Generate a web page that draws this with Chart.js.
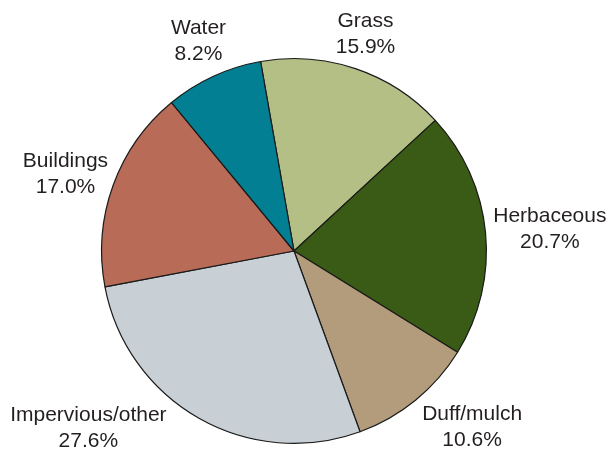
<!DOCTYPE html>
<html>
<head>
<meta charset="utf-8">
<script src="https://cdn.jsdelivr.net/npm/chart.js@4/dist/chart.umd.min.js"></script>
<style>
  html, body { margin: 0; padding: 0; background: #fff; }
  #wrap { width: 610px; height: 453px; }
</style>
</head>
<body>
<div id="wrap"><canvas id="chart-area" width="610" height="453"></canvas></div>
<script>
// land cover shares, clockwise from just left of 12 o'clock
const categories = ['Grass', 'Herbaceous', 'Duff/mulch', 'Impervious/other', 'Buildings', 'Water']
const shares = [15.9, 20.7, 10.6, 27.6, 17.0, 8.2]
const sliceColors = ['#b4bf86', '#3a5b15', '#b39c7b', '#c8d0d6', '#b86b56', '#037f94']

// labels sit outside the rim on the slice's mid angle; a few need nudging
const labelNudge = {
    'Grass': [-2, -2],
    'Duff/mulch': [20, 1],
    'Impervious/other': [-68, -20],
    'Water': [0, -4]
}

const outsideLabels = {
    id: 'outsideLabels',
    afterDatasetsDraw(chart) {
        const ctx = chart.ctx
        const meta = chart.getDatasetMeta(0)
        const lineH = 26
        const gap = 8
        ctx.save()
        ctx.font = '21px "Liberation Sans", Arial, sans-serif'
        ctx.fillStyle = '#231f20'
        ctx.textAlign = 'center'
        ctx.textBaseline = 'middle'
        meta.data.forEach((arc, i) => {
            const p = arc.getProps(['x', 'y', 'startAngle', 'endAngle', 'outerRadius'], true)
            const mid = (p.startAngle + p.endAngle) / 2
            const lines = [categories[i], shares[i].toFixed(1) + '%']
            const w = Math.max(...lines.map(t => ctx.measureText(t).width))
            const h = lines.length * lineH
            const cx = Math.cos(mid), cy = Math.sin(mid)
            let x = p.x + (p.outerRadius + gap) * cx + cx * w / 2
            let y = p.y + (p.outerRadius + gap) * cy + cy * h / 2
            const n = labelNudge[categories[i]]
            if (n) { x += n[0]; y += n[1] }
            lines.forEach((t, k) => {
                ctx.fillText(t, x, y - h / 2 + lineH / 2 + k * lineH)
            })
        })
        ctx.restore()
    }
}

const ctx = document.getElementById('chart-area').getContext('2d')

new Chart(ctx, {
    type: 'pie',
    data: {
        labels: categories,
        datasets: [{
            data: shares,
            backgroundColor: sliceColors,
            borderColor: '#1a1a1a',
            borderWidth: 1.2
        }]
    },
    options: {
        responsive: false,
        animation: false,
        rotation: -10,
        layout: {
            padding: { top: 58, bottom: 9, left: 101, right: 123 }
        },
        plugins: {
            legend: { display: false },
            tooltip: { enabled: false }
        }
    },
    plugins: [outsideLabels]
})
</script>
</body>
</html>
